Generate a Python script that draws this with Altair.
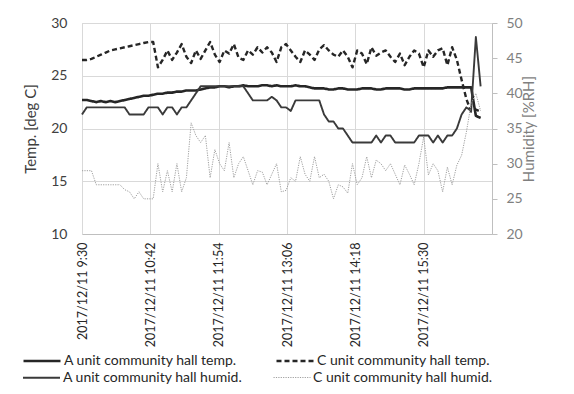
import altair as alt
import pandas as pd

# 5-minute samples starting 2017/12/11 9:30 (minutes since midnight)
start_min = 570
step_min = 5

temp_names = ["A unit community hall temp.", "C unit community hall temp."]
hum_names = ["A unit community hall humid.", "C unit community hall humid."]

a_temp = [22.7, 22.7, 22.6, 22.5, 22.6, 22.5, 22.6, 22.5, 22.6, 22.7,
          22.8, 22.9, 23.0, 23.1, 23.1,
          23.2, 23.3, 23.3, 23.4, 23.4, 23.5, 23.5, 23.6, 23.6, 23.6, 23.7, 23.8, 23.9, 23.9,
          24.0, 24.0, 23.9, 24.0, 24.0, 24.1, 24.0, 24.0, 24.0, 24.1, 24.1, 24.0, 24.1, 24.0,
          24.0, 24.0, 24.1, 24.0, 24.0, 23.9,
          23.8, 23.8, 23.8, 23.7, 23.7, 23.8, 23.8, 23.7, 23.7, 23.7, 23.8, 23.8, 23.8, 23.7,
          23.7, 23.8, 23.8, 23.8, 23.8, 23.7, 23.7, 23.8, 23.8, 23.8, 23.8, 23.8, 23.8, 23.8,
          23.9, 23.9, 23.9, 23.9, 23.9, 23.9,
          21.2, 21.0]

c_temp = [26.5, 26.5, 26.6, 26.8, 27.0, 27.2, 27.4, 27.5, 27.6, 27.7, 27.8, 27.9, 28.0, 28.1, 28.2, 28.2,
          25.8, 26.5, 27.4, 26.5, 27.2, 28.0, 26.8, 26.2, 27.4, 26.6, 27.4, 28.2, 27.0, 26.3,
          27.4, 27.1, 28.0, 26.7, 26.5, 27.4, 27.0, 27.7, 27.2, 27.7, 27.2, 26.3, 27.7, 28.0,
          27.4, 26.8, 26.3, 27.4, 27.0, 26.5, 27.5, 27.9, 27.4, 27.0, 26.8, 27.4, 26.8, 25.8, 27.4,
          27.1, 26.1, 27.7, 26.9, 27.2, 27.4, 26.8, 26.3, 27.1, 26.0, 26.8, 27.4, 27.1, 25.8, 27.4,
          26.8, 27.4, 27.6, 26.0, 27.7, 26.5, 24.6, 22.8, 21.6, 21.8, 21.6]

a_hum = [37, 38, 38, 38, 38, 38, 38, 38, 38, 38,
         37, 37, 37, 37, 38, 38, 38, 37, 38, 38, 37, 38, 38, 39, 40,
         41, 41, 41, 41, 41, 41, 41, 41, 41, 41,
         40, 39, 39, 39, 39, 39.5, 39, 38, 38, 37.5,
         39, 39, 39, 39, 39, 39, 37, 36, 36, 35, 35, 34,
         33, 33, 33, 33, 33, 34, 33, 34, 34, 33, 33, 33, 33, 33,
         34, 34, 34, 33, 34, 33, 34, 34, 35, 37, 38, 37.5, 48, 41]

c_hum = [29, 29, 29, 27, 27, 27, 27, 27, 27, 26.3, 26, 25, 26, 25, 25, 25,
         30, 26, 29, 26, 30, 26, 28, 35.8, 34, 33, 34, 28, 32, 30, 29, 33,
         28, 30, 31, 29, 27, 29, 28.8, 27, 28.5, 30, 26, 26.2, 28,
         27.5, 31, 28.5, 27.5, 31, 28, 28.5, 27.5, 25, 27, 26.7, 25.8, 30, 27,
         28, 31, 28, 30.5, 30, 29, 30, 28.5, 27, 29.8, 28.5, 27, 30, 33.8, 28.4,
         30, 29, 26, 29.5, 27, 29.8, 31.2, 34.5, 38.5, 40, 37.5]

tick_minutes = [570, 642, 714, 786, 858, 930]
tick_labels = ["2017/12/11 9:30", "2017/12/11 10:42", "2017/12/11 11:54",
               "2017/12/11 13:06", "2017/12/11 14:18", "2017/12/11 15:30"]

rows = []
for name, vals in zip(temp_names + hum_names, [a_temp, c_temp, a_hum, c_hum]):
    for i, v in enumerate(vals):
        rows.append({"t": start_min + step_min * i, "series": name, "v": v})
df = pd.DataFrame(rows)

label_map = "{" + ",".join(f"'{m}':'{l}'" for m, l in zip(tick_minutes, tick_labels)) + "}"

FONT = "Lato"


def legend(y, col_pad):
    return alt.Legend(
        title=None, orient="none", legendX=-60, legendY=y, direction="horizontal",
        symbolType="stroke", symbolSize=1369, columnPadding=col_pad,
        labelFont=FONT, labelFontSize=14, labelColor="#262626", labelOffset=2,
        labelLimit=300,
    )


def encs(names, colors, dashes, widths, leg):
    return dict(
        color=alt.Color("series:N", scale=alt.Scale(domain=names, range=colors), legend=leg),
        strokeDash=alt.StrokeDash("series:N", scale=alt.Scale(domain=names, range=dashes), legend=None),
        strokeWidth=alt.StrokeWidth("series:N", scale=alt.Scale(domain=names, range=widths), legend=None),
    )


x = alt.X(
    "t:Q",
    scale=alt.Scale(domain=[570, 1002], nice=False, zero=False),
    axis=alt.Axis(
        title=None, values=tick_minutes, labelExpr=f"{label_map}[''+datum.value]",
        labelAngle=270, labelFont=FONT, labelFontSize=12.5, labelColor="#262626",
        labelPadding=8, ticks=False, grid=True, gridColor="#d9d9d9",
        domainColor="#bfbfbf", labelOverlap=False, labelBound=False, labelFlush=False,
    ),
)

base = alt.Chart(df)

temp = base.transform_filter(
    alt.FieldOneOfPredicate(field="series", oneOf=temp_names)
).mark_line(strokeJoin="round").encode(
    x=x,
    y=alt.Y("v:Q", scale=alt.Scale(domain=[10, 30], nice=False, zero=False),
            axis=alt.Axis(title="Temp. [deg C]", orient="left", values=[10, 15, 20, 25, 30],
                          grid=True, gridColor="#d9d9d9", domainColor="#d9d9d9", ticks=False,
                          labelFont=FONT, labelFontSize=14, labelColor="#404040", labelPadding=15,
                          titleFont=FONT, titleFontSize=15, titleFontWeight="normal",
                          titleColor="#404040", titlePadding=12)),
    order="t:Q",
    **encs(temp_names, ["#262626", "#262626"], [[1, 0], [5, 3]], [2.6, 2.4], legend(318, 34)),
)

hum = base.transform_filter(
    alt.FieldOneOfPredicate(field="series", oneOf=hum_names)
).mark_line(strokeJoin="round").encode(
    x=x,
    y=alt.Y("v:Q", scale=alt.Scale(domain=[20, 50], nice=False, zero=False),
            axis=alt.Axis(title="Humidity [%RH]", orient="right", values=[20, 25, 30, 35, 40, 45, 50],
                          grid=False, domainColor="#bfbfbf", ticks=True, tickColor="#bfbfbf",
                          tickSize=5, labelFont=FONT, labelFontSize=14, labelColor="#7f7f7f",
                          labelPadding=9, titleFont=FONT, titleFontSize=15,
                          titleFontWeight="normal", titleColor="#7f7f7f", titleAngle=270,
                          titlePadding=14)),
    order="t:Q",
    **encs(hum_names, ["#3a3a3a", "#9f9f9f"], [[1, 0], [1.2, 1.2]], [1.9, 1.0], legend(335, 28)),
)

chart = alt.layer(temp, hum).resolve_scale(
    y="independent", color="independent", strokeDash="independent", strokeWidth="independent"
).properties(
    width=410, height=211,
    autosize=alt.AutoSizeParams(type="none"),
    padding={"left": 74, "top": 15, "right": 70, "bottom": 152},
).configure_view(stroke=None).configure(background="white")

chart.save("out.html", embed_options={"renderer": "svg", "actions": False})
